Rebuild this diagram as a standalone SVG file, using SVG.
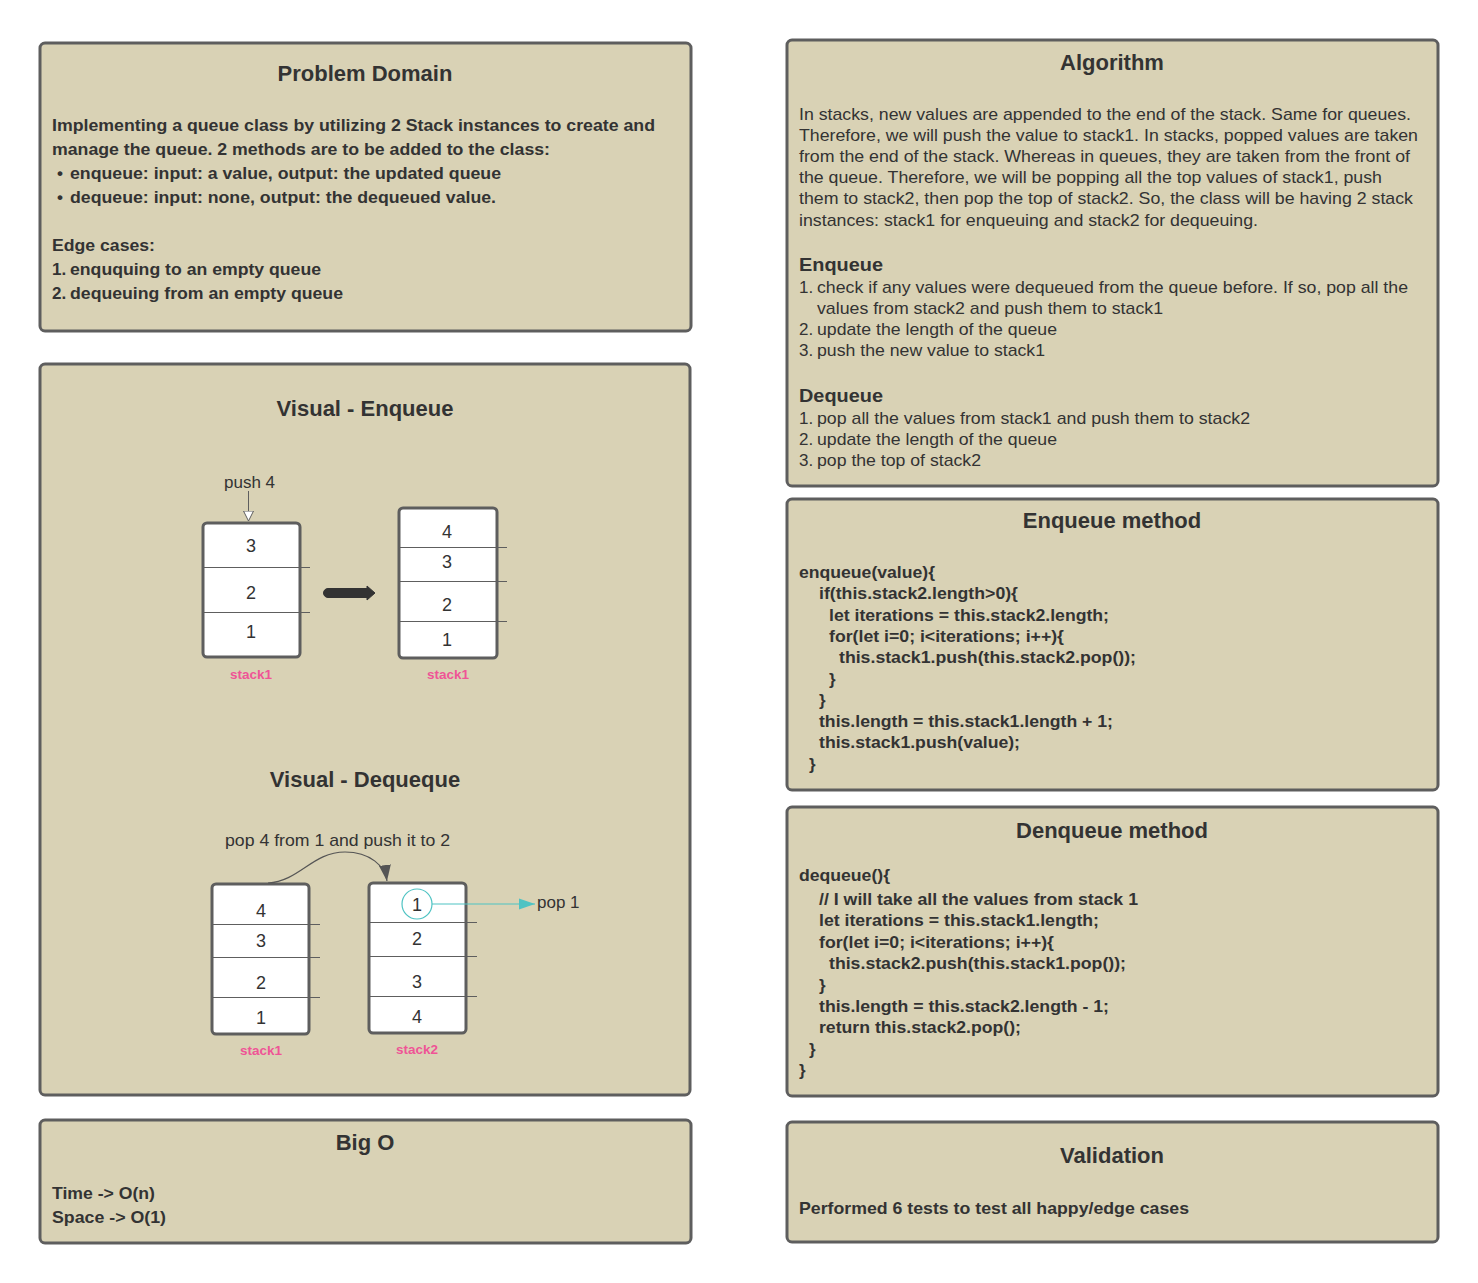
<svg xmlns="http://www.w3.org/2000/svg" width="1478" height="1283" viewBox="0 0 1478 1283">
<style>
.box{fill:#d9d2b5;stroke:#5e5e5e;stroke-width:3}
.title{font-family:"Liberation Sans",Arial,sans-serif;font-weight:bold;font-size:22px;fill:#333;text-anchor:middle}
.b{font-family:"Liberation Sans",Arial,sans-serif;font-weight:bold;font-size:17px;fill:#333}
.r{font-family:"Liberation Sans",Arial,sans-serif;font-size:17px;fill:#333}
.h{font-family:"Liberation Sans",Arial,sans-serif;font-weight:bold;font-size:19px;fill:#333}
.stk{fill:#fff;stroke:#5e5e5e;stroke-width:3}
.div{stroke:#5e5e5e;stroke-width:1}
.num{font-family:"Liberation Sans",Arial,sans-serif;font-size:18px;fill:#333;text-anchor:middle}
.lbl{font-family:"Liberation Sans",Arial,sans-serif;font-size:17px;fill:#333}
.pink{font-family:"Liberation Sans",Arial,sans-serif;font-weight:bold;font-size:13.5px;fill:#ef5496;text-anchor:middle}
</style>
<defs>
<marker id="open" viewBox="0 0 10 16" refX="10" refY="8" markerWidth="10" markerHeight="16" markerUnits="userSpaceOnUse" orient="auto">
<path d="M0,3 L10,8 L0,13 Z" fill="#fff" stroke="#5e5e5e" stroke-width="1"/>
</marker>
<marker id="dark" viewBox="0 0 16 12" refX="16" refY="6" markerWidth="16" markerHeight="12" markerUnits="userSpaceOnUse" orient="auto">
<path d="M0,0 L16,6 L0,12 Z" fill="#555"/>
</marker>
<marker id="teal" viewBox="0 0 16 12" refX="16" refY="6" markerWidth="16" markerHeight="12" markerUnits="userSpaceOnUse" orient="auto">
<path d="M0,0.5 L16,6 L0,11.5 Z" fill="#4fc3c3"/>
</marker>
</defs>

<g id="problem-domain">
<rect class="box" x="40" y="43" width="651" height="288" rx="5"/>
<text class="title" x="365" y="81">Problem Domain</text>
<text class="b" x="52" y="131" textLength="603" lengthAdjust="spacingAndGlyphs">Implementing a queue class by utilizing 2 Stack instances to create and</text>
<text class="b" x="52" y="155" textLength="498" lengthAdjust="spacingAndGlyphs">manage the queue. 2 methods are to be added to the class:</text>
<text class="b" x="57" y="179">•</text>
<text class="b" x="70" y="179" textLength="431" lengthAdjust="spacingAndGlyphs">enqueue: input: a value, output: the updated queue</text>
<text class="b" x="57" y="203">•</text>
<text class="b" x="70" y="203" textLength="426" lengthAdjust="spacingAndGlyphs">dequeue: input: none, output: the dequeued value.</text>
<text class="b" x="52" y="251" textLength="103" lengthAdjust="spacingAndGlyphs">Edge cases:</text>
<text class="b" x="52" y="275">1.</text>
<text class="b" x="70" y="275" textLength="251" lengthAdjust="spacingAndGlyphs">enququing to an empty queue</text>
<text class="b" x="52" y="299">2.</text>
<text class="b" x="70" y="299" textLength="273" lengthAdjust="spacingAndGlyphs">dequeuing from an empty queue</text>
</g>

<g id="visual">
<rect class="box" x="40" y="364" width="650" height="731" rx="5"/>
<text class="title" x="365" y="416">Visual - Enqueue</text>
<text class="title" x="365" y="787">Visual - Dequeque</text>
</g>

<g id="enqueue-stack-before">
<rect class="stk" x="203" y="523" width="97" height="134" rx="4"/>
<line class="div" x1="203" y1="567.5" x2="310" y2="567.5"/>
<line class="div" x1="203" y1="612.5" x2="310" y2="612.5"/>
<text class="num" x="251" y="552">3</text>
<text class="num" x="251" y="599">2</text>
<text class="num" x="251" y="638">1</text>
<text class="pink" x="251" y="679">stack1</text>
</g>

<g id="enqueue-stack-after">
<rect class="stk" x="399" y="508" width="98" height="150" rx="4"/>
<line class="div" x1="399" y1="547.5" x2="507" y2="547.5"/>
<line class="div" x1="399" y1="581.5" x2="507" y2="581.5"/>
<line class="div" x1="399" y1="621.5" x2="507" y2="621.5"/>
<text class="num" x="447" y="538">4</text>
<text class="num" x="447" y="568">3</text>
<text class="num" x="447" y="611">2</text>
<text class="num" x="447" y="646">1</text>
<text class="pink" x="448" y="679">stack1</text>
</g>

<g id="dequeue-stack1">
<rect class="stk" x="212" y="884" width="97" height="150" rx="4"/>
<line class="div" x1="212" y1="924.5" x2="320" y2="924.5"/>
<line class="div" x1="212" y1="957.5" x2="320" y2="957.5"/>
<line class="div" x1="212" y1="997.5" x2="320" y2="997.5"/>
<text class="num" x="261" y="917">4</text>
<text class="num" x="261" y="947">3</text>
<text class="num" x="261" y="989">2</text>
<text class="num" x="261" y="1024">1</text>
<text class="pink" x="261" y="1055">stack1</text>
</g>

<g id="dequeue-stack2">
<rect class="stk" x="369" y="883" width="97" height="150" rx="4"/>
<line class="div" x1="369" y1="922.5" x2="477" y2="922.5"/>
<line class="div" x1="369" y1="956.5" x2="477" y2="956.5"/>
<line class="div" x1="369" y1="996.5" x2="477" y2="996.5"/>
<circle cx="417" cy="904" r="15" fill="#fff" stroke="#4fc3c3" stroke-width="1.2"/>
<text class="num" x="417" y="911">1</text>
<text class="num" x="417" y="945">2</text>
<text class="num" x="417" y="988">3</text>
<text class="num" x="417" y="1023">4</text>
<text class="pink" x="417" y="1054">stack2</text>
</g>

<g id="labels">
<text class="lbl" x="224" y="488">push 4</text>
<text class="lbl" x="225" y="846" textLength="225" lengthAdjust="spacingAndGlyphs">pop 4 from 1 and push it to 2</text>
<text class="lbl" x="537" y="908">pop 1</text>
</g>

<g id="connectors">
<line x1="248.5" y1="491" x2="248.5" y2="521" stroke="#5e5e5e" stroke-width="1" marker-end="url(#open)"/>
<path d="M328,588.5 L367,588.5 L367,586 L375,593 L367,600 L367,597.5 L328,597.5 A4.5,4.5 0 0 1 328,588.5 Z" fill="#333" stroke="#333" stroke-width="1" stroke-linejoin="round"/>
<path d="M268,883 C300,881 312,852 345,852 C370,852 385,866 387,881" fill="none" stroke="#555" stroke-width="1.2" marker-end="url(#dark)"/>
<line x1="432" y1="904" x2="535" y2="904" stroke="#4fc3c3" stroke-width="1.2" marker-end="url(#teal)"/>
</g>

<g id="big-o">
<rect class="box" x="40" y="1120" width="651" height="123" rx="5"/>
<text class="title" x="365" y="1150">Big O</text>
<text class="b" x="52" y="1199" textLength="103" lengthAdjust="spacingAndGlyphs">Time -&gt; O(n)</text>
<text class="b" x="52" y="1223" textLength="114" lengthAdjust="spacingAndGlyphs">Space -&gt; O(1)</text>
</g>

<g id="algorithm">
<rect class="box" x="787" y="40" width="651" height="446" rx="5"/>
<text class="title" x="1112" y="70">Algorithm</text>
<text class="r" x="799" y="120" textLength="612" lengthAdjust="spacingAndGlyphs">In stacks, new values are appended to the end of the stack. Same for queues.</text>
<text class="r" x="799" y="141" textLength="619" lengthAdjust="spacingAndGlyphs">Therefore, we will push the value to stack1. In stacks, popped values are taken</text>
<text class="r" x="799" y="162" textLength="611" lengthAdjust="spacingAndGlyphs">from the end of the stack. Whereas in queues, they are taken from the front of</text>
<text class="r" x="799" y="183" textLength="583" lengthAdjust="spacingAndGlyphs">the queue. Therefore, we will be popping all the top values of stack1, push</text>
<text class="r" x="799" y="204" textLength="614" lengthAdjust="spacingAndGlyphs">them to stack2, then pop the top of stack2. So, the class will be having 2 stack</text>
<text class="r" x="799" y="226" textLength="459" lengthAdjust="spacingAndGlyphs">instances: stack1 for enqueuing and stack2 for dequeuing.</text>
<text class="h" x="799" y="271" textLength="84" lengthAdjust="spacingAndGlyphs">Enqueue</text>
<text class="r" x="799" y="293">1.</text>
<text class="r" x="817" y="293" textLength="591" lengthAdjust="spacingAndGlyphs">check if any values were dequeued from the queue before. If so, pop all the</text>
<text class="r" x="817" y="314" textLength="346" lengthAdjust="spacingAndGlyphs">values from stack2 and push them to stack1</text>
<text class="r" x="799" y="335">2.</text>
<text class="r" x="817" y="335" textLength="240" lengthAdjust="spacingAndGlyphs">update the length of the queue</text>
<text class="r" x="799" y="356">3.</text>
<text class="r" x="817" y="356" textLength="228" lengthAdjust="spacingAndGlyphs">push the new value to stack1</text>
<text class="h" x="799" y="402" textLength="84" lengthAdjust="spacingAndGlyphs">Dequeue</text>
<text class="r" x="799" y="424">1.</text>
<text class="r" x="817" y="424" textLength="433" lengthAdjust="spacingAndGlyphs">pop all the values from stack1 and push them to stack2</text>
<text class="r" x="799" y="445">2.</text>
<text class="r" x="817" y="445" textLength="240" lengthAdjust="spacingAndGlyphs">update the length of the queue</text>
<text class="r" x="799" y="466">3.</text>
<text class="r" x="817" y="466" textLength="164" lengthAdjust="spacingAndGlyphs">pop the top of stack2</text>
</g>

<g id="enqueue-method">
<rect class="box" x="787" y="499" width="651" height="291" rx="5"/>
<text class="title" x="1112" y="528">Enqueue method</text>
<text class="b" x="799" y="578" textLength="136" lengthAdjust="spacingAndGlyphs">enqueue(value){</text>
<text class="b" x="819" y="599" textLength="199" lengthAdjust="spacingAndGlyphs">if(this.stack2.length&gt;0){</text>
<text class="b" x="829" y="621" textLength="280" lengthAdjust="spacingAndGlyphs">let iterations = this.stack2.length;</text>
<text class="b" x="829" y="642" textLength="235" lengthAdjust="spacingAndGlyphs">for(let i=0; i&lt;iterations; i++){</text>
<text class="b" x="839" y="663" textLength="297" lengthAdjust="spacingAndGlyphs">this.stack1.push(this.stack2.pop());</text>
<text class="b" x="829" y="685">}</text>
<text class="b" x="819" y="706">}</text>
<text class="b" x="819" y="727" textLength="294" lengthAdjust="spacingAndGlyphs">this.length = this.stack1.length + 1;</text>
<text class="b" x="819" y="748" textLength="201" lengthAdjust="spacingAndGlyphs">this.stack1.push(value);</text>
<text class="b" x="809" y="770">}</text>
</g>

<g id="dequeue-method">
<rect class="box" x="787" y="807" width="651" height="289" rx="5"/>
<text class="title" x="1112" y="838">Denqueue method</text>
<text class="b" x="799" y="881" textLength="91" lengthAdjust="spacingAndGlyphs">dequeue(){</text>
<text class="b" x="819" y="905" textLength="319" lengthAdjust="spacingAndGlyphs">// I will take all the values from stack 1</text>
<text class="b" x="819" y="926" textLength="280" lengthAdjust="spacingAndGlyphs">let iterations = this.stack1.length;</text>
<text class="b" x="819" y="948" textLength="235" lengthAdjust="spacingAndGlyphs">for(let i=0; i&lt;iterations; i++){</text>
<text class="b" x="829" y="969" textLength="297" lengthAdjust="spacingAndGlyphs">this.stack2.push(this.stack1.pop());</text>
<text class="b" x="819" y="991">}</text>
<text class="b" x="819" y="1012" textLength="290" lengthAdjust="spacingAndGlyphs">this.length = this.stack2.length - 1;</text>
<text class="b" x="819" y="1033" textLength="202" lengthAdjust="spacingAndGlyphs">return this.stack2.pop();</text>
<text class="b" x="809" y="1055">}</text>
<text class="b" x="799" y="1076">}</text>
</g>

<g id="validation">
<rect class="box" x="787" y="1122" width="651" height="120" rx="5"/>
<text class="title" x="1112" y="1163">Validation</text>
<text class="b" x="799" y="1214" textLength="390" lengthAdjust="spacingAndGlyphs">Performed 6 tests to test all happy/edge cases</text>
</g>
</svg>
